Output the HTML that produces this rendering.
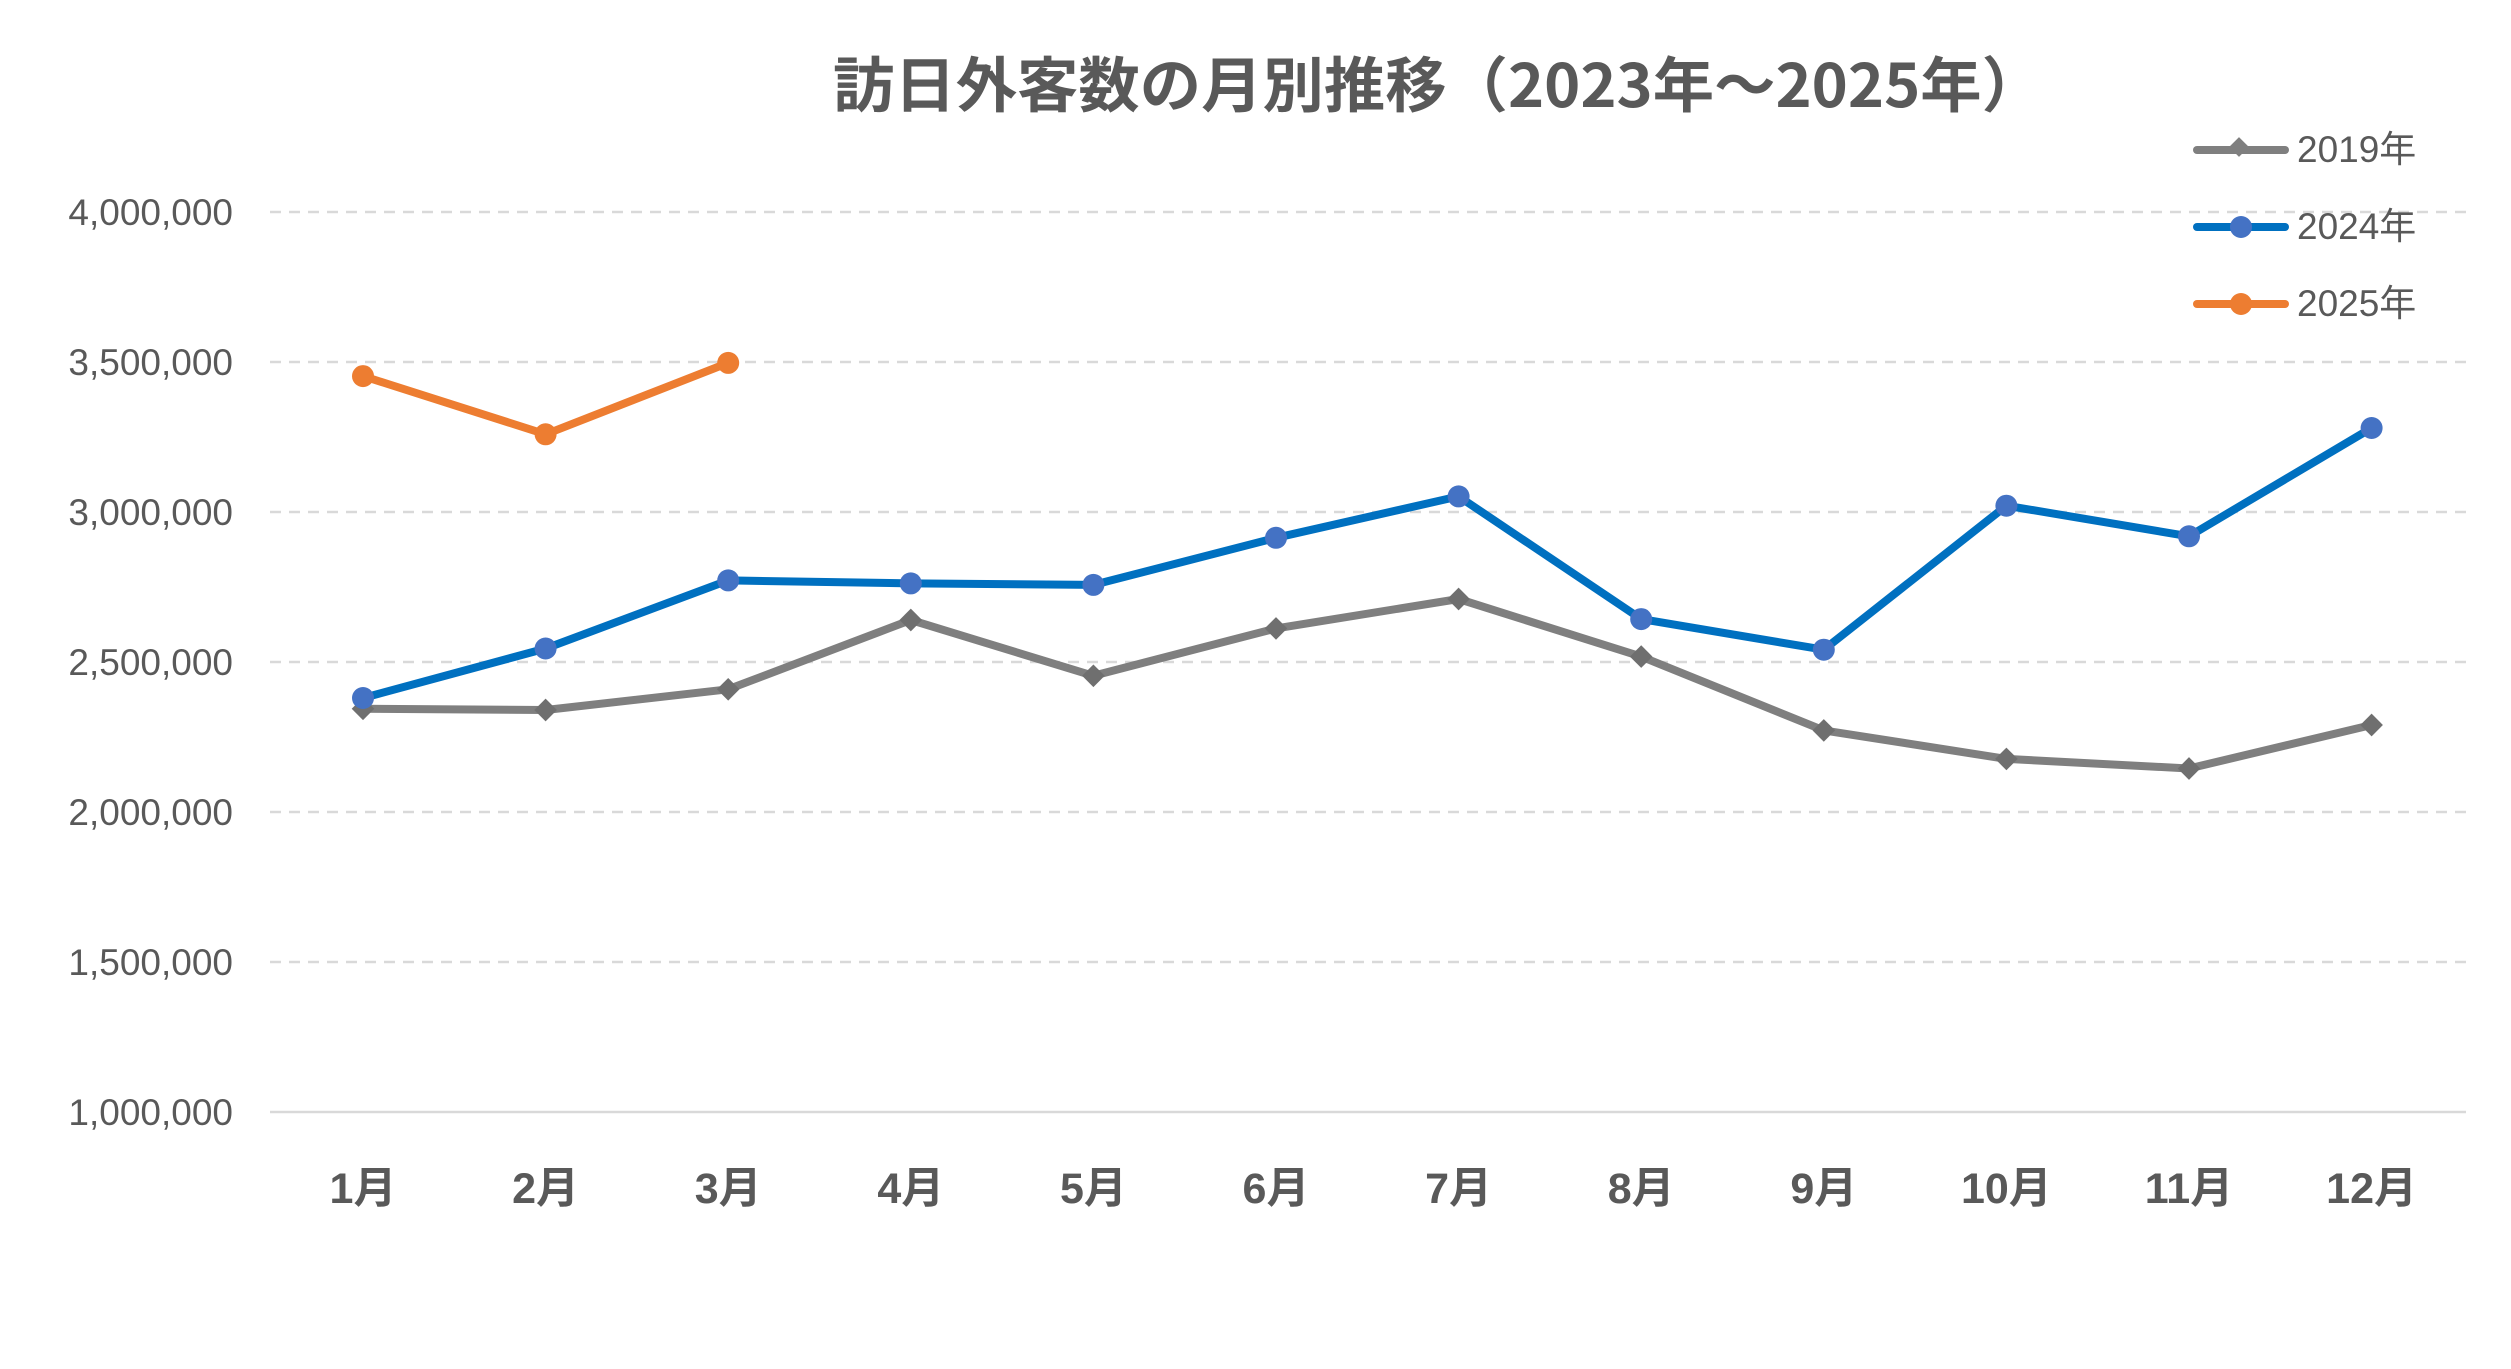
<!DOCTYPE html>
<html><head><meta charset="utf-8"><style>
html,body{margin:0;padding:0;background:#fff;}
svg{display:block;}
text{font-family:"Liberation Sans","Noto Sans CJK JP",sans-serif;fill:#595959;}
</style></head><body>
<svg id="c" width="2511" height="1369" viewBox="0 0 2511 1369" xmlns="http://www.w3.org/2000/svg">
<text x="833" y="107" font-size="60" font-weight="bold" textLength="1210" lengthAdjust="spacingAndGlyphs" style="font-family:'Noto Sans CJK JP',sans-serif">訪日外客数の月別推移（2023年～2025年）</text>
<g id="grid"></g>
<g id="series"></g>
<g font-size="37">
<line x1="2197" y1="150" x2="2285" y2="150" stroke="#7f7f7f" stroke-width="8" stroke-linecap="round"/>
<rect x="2232" y="140" width="14" height="14" transform="rotate(45 2239 147)" fill="#7f7f7f"/>
<text x="2297" y="162">2019年</text>
<line x1="2197" y1="227" x2="2285" y2="227" stroke="#0070c0" stroke-width="8" stroke-linecap="round"/>
<circle cx="2241" cy="227" r="11" fill="#4472c4"/>
<text x="2297" y="239">2024年</text>
<line x1="2197" y1="304" x2="2285" y2="304" stroke="#ed7d31" stroke-width="8" stroke-linecap="round"/>
<circle cx="2241" cy="304" r="11" fill="#ed7d31"/>
<text x="2297" y="316">2025年</text>
</g>
</svg>
<script>
var NS="http://www.w3.org/2000/svg";
function el(t,a,p,txt){var e=document.createElementNS(NS,t);for(var k in a)e.setAttribute(k,a[k]);if(txt)e.textContent=txt;p.appendChild(e);return e;}
var g=document.getElementById('grid'),s=document.getElementById('series');
function Y(v){return 1112-(v-1e6)/500000*150;}
function X(i){return 363+i*182.6;}
var labs=["1,000,000","1,500,000","2,000,000","2,500,000","3,000,000","3,500,000","4,000,000"];
for(var i=0;i<7;i++){var v=1e6+i*5e5,y=Y(v);
 if(i==0)el('line',{x1:270,x2:2466,y1:y,y2:y,stroke:'#d9d9d9','stroke-width':2.5},g);
 else el('line',{x1:270,x2:2466,y1:y,y2:y,stroke:'#d9d9d9','stroke-width':2.5,'stroke-dasharray':'11 8'},g);
 el('text',{x:233,y:y+13,'font-size':37,'text-anchor':'end'},g,labs[i]);}
for(var i=0;i<12;i++)el('text',{x:X(i),y:1203,'font-size':43,'font-weight':'bold','text-anchor':'middle'},g,(i+1)+'月');
var d19=[2344,2340,2409,2640,2454,2612,2710,2518,2272,2177,2145,2290],
d24=[2380,2545,2772,2762,2757,2914,3052,2643,2541,3021,2919,3280],
d25=[3453,3259,3497];
function line(d,c,mc,dia){var p=d.map(function(v,i){return X(i)+','+Y(v*1000)}).join(' ');
 el('polyline',{points:p,fill:'none',stroke:c,'stroke-width':8,'stroke-linejoin':'round'},s);
 d.forEach(function(v,i){var x=X(i),y=Y(v*1000);
  if(dia)el('rect',{x:x-8,y:y-8,width:16,height:16,fill:mc,transform:'rotate(45 '+x+' '+y+')'},s);
  else el('circle',{cx:x,cy:y,r:11,fill:mc},s);});}
line(d19,'#7f7f7f','#6f6f6f',true);
line(d24,'#0070c0','#4472c4',false);
line(d25,'#ed7d31','#ed7d31',false);
</script>
</body></html>
